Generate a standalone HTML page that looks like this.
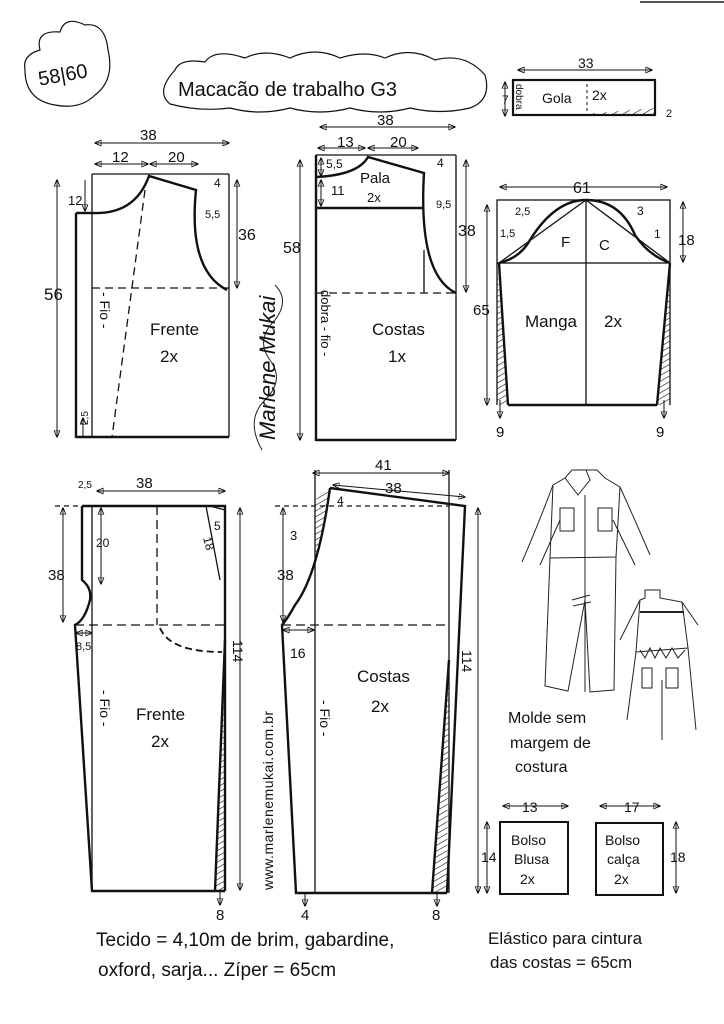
<!DOCTYPE html>
<html><head><meta charset="utf-8"><style>
html,body{margin:0;padding:0;background:#fff}
svg{display:block}
text{font-family:"Liberation Sans Narrow","Liberation Sans",sans-serif;fill:#111}
</style></head><body>
<svg width="724" height="1024" viewBox="0 0 724 1024" xmlns="http://www.w3.org/2000/svg">
<defs>
<marker id="a" viewBox="0 0 10 10" refX="9" refY="5" markerWidth="7" markerHeight="7" orient="auto-start-reverse"><path d="M0,1 L10,5 L0,9 Z" fill="none" stroke="#111" stroke-width="1.3"/></marker>
<pattern id="h" width="5" height="5" patternUnits="userSpaceOnUse" patternTransform="rotate(60)"><line x1="0" y1="0" x2="0" y2="5" stroke="#111" stroke-width="1.2"/></pattern>
</defs>
<rect width="724" height="1024" fill="#fff"/>
<line x1="640" y1="2" x2="724" y2="2" stroke="#555" stroke-width="2"/>
<g fill="none" stroke="#111" stroke-width="1.2">
<!-- size cloud -->
<path d="M40,50 Q35,30 60,32 Q65,15 85,25 Q105,22 108,50 Q115,80 95,95 Q80,110 55,105 Q25,100 25,70 Q22,55 40,50 Z"/>
<!-- title cloud -->
<path d="M175,70 Q180,58 205,62 Q215,48 245,58 Q265,48 290,58 Q315,46 340,58 Q365,50 385,58 Q410,46 435,60 Q465,52 485,75 Q492,100 470,108 Q440,115 410,108 Q380,116 350,108 Q320,116 290,108 Q260,116 230,108 Q200,112 170,104 Q155,92 175,70 Z"/>
</g>
<text x="38" y="82" font-size="20" transform="rotate(-10 60 75)">58|60</text>
<text x="178" y="96" font-size="20">Macacão de trabalho G3</text>

<g fill="none" stroke="#111" stroke-width="1">
<!-- dims -->
<line x1="95" y1="143" x2="229" y2="143" marker-start="url(#a)" marker-end="url(#a)"/>
<line x1="95" y1="164" x2="148" y2="164" marker-start="url(#a)" marker-end="url(#a)"/>
<line x1="150" y1="164" x2="198" y2="164" marker-start="url(#a)" marker-end="url(#a)"/>
<line x1="57" y1="180" x2="57" y2="437" marker-start="url(#a)" marker-end="url(#a)"/>
<line x1="85" y1="180" x2="85" y2="211" marker-end="url(#a)"/>
<line x1="237" y1="180" x2="237" y2="288" marker-start="url(#a)" marker-end="url(#a)"/>
<line x1="83" y1="436" x2="83" y2="418" marker-end="url(#a)"/>
<line x1="320" y1="127" x2="455" y2="127" marker-start="url(#a)" marker-end="url(#a)"/>
<line x1="318" y1="148" x2="365" y2="148" marker-start="url(#a)" marker-end="url(#a)"/>
<line x1="368" y1="148" x2="418" y2="148" marker-start="url(#a)" marker-end="url(#a)"/>
<line x1="321" y1="158" x2="321" y2="176" marker-start="url(#a)" marker-end="url(#a)"/>
<line x1="321" y1="180" x2="321" y2="206" marker-start="url(#a)" marker-end="url(#a)"/>
<line x1="300" y1="160" x2="300" y2="440" marker-start="url(#a)" marker-end="url(#a)"/>
<line x1="466" y1="160" x2="466" y2="292" marker-start="url(#a)" marker-end="url(#a)"/>
<line x1="500" y1="187" x2="667" y2="187" marker-start="url(#a)" marker-end="url(#a)"/>
<line x1="683" y1="202" x2="683" y2="262" marker-start="url(#a)" marker-end="url(#a)"/>
<line x1="487" y1="205" x2="487" y2="405" marker-start="url(#a)" marker-end="url(#a)"/>
<line x1="500" y1="400" x2="500" y2="418" marker-end="url(#a)"/>
<line x1="664" y1="400" x2="664" y2="418" marker-end="url(#a)"/>
<line x1="518" y1="70" x2="652" y2="70" marker-start="url(#a)" marker-end="url(#a)"/>
<line x1="505" y1="82" x2="505" y2="116" marker-start="url(#a)" marker-end="url(#a)"/>
<!-- pants dims -->
<line x1="97" y1="491" x2="225" y2="491" marker-start="url(#a)" marker-end="url(#a)"/>
<line x1="63" y1="508" x2="63" y2="622" marker-start="url(#a)" marker-end="url(#a)"/>
<line x1="101" y1="508" x2="101" y2="584" marker-start="url(#a)" marker-end="url(#a)"/>
<line x1="240" y1="508" x2="240" y2="890" marker-start="url(#a)" marker-end="url(#a)"/>
<line x1="76" y1="633" x2="92" y2="633" marker-start="url(#a)" marker-end="url(#a)"/>
<line x1="220" y1="891" x2="220" y2="905" marker-end="url(#a)"/>
<line x1="313" y1="473" x2="449" y2="473" marker-start="url(#a)" marker-end="url(#a)"/>
<line x1="333" y1="485" x2="465" y2="497" marker-start="url(#a)" marker-end="url(#a)"/>
<line x1="283" y1="508" x2="283" y2="622" marker-start="url(#a)" marker-end="url(#a)"/>
<line x1="283" y1="630" x2="314" y2="630" marker-start="url(#a)" marker-end="url(#a)"/>
<line x1="478" y1="508" x2="478" y2="893" marker-start="url(#a)" marker-end="url(#a)"/>
<line x1="305" y1="893" x2="305" y2="906" marker-end="url(#a)"/>
<line x1="437" y1="893" x2="437" y2="906" marker-end="url(#a)"/>
<line x1="503" y1="806" x2="568" y2="806" marker-start="url(#a)" marker-end="url(#a)"/>
<line x1="600" y1="806" x2="660" y2="806" marker-start="url(#a)" marker-end="url(#a)"/>
<line x1="487" y1="822" x2="487" y2="893" marker-start="url(#a)" marker-end="url(#a)"/>
<line x1="676" y1="822" x2="676" y2="893" marker-start="url(#a)" marker-end="url(#a)"/>
</g>

<!-- Front bodice -->
<g fill="none" stroke="#111" stroke-width="1.3">
<line x1="92" y1="174" x2="229" y2="174"/>
<line x1="92" y1="174" x2="92" y2="437"/>
<line x1="229" y1="174" x2="229" y2="437"/>
<line x1="145" y1="190" x2="112" y2="437" stroke-dasharray="8 5"/>
<line x1="92" y1="288" x2="229" y2="288" stroke-dasharray="8 5"/>
</g>
<g fill="none" stroke="#111" stroke-width="2.4">
<path d="M92,213 Q135,215 149,176 L196,190 Q188,270 227,290"/>
<line x1="76" y1="213" x2="76" y2="438"/>
<line x1="76" y1="213" x2="92" y2="213"/>
<line x1="76" y1="437" x2="229" y2="437"/>
</g>
<!-- Back bodice -->
<g fill="none" stroke="#111" stroke-width="1.3">
<line x1="316" y1="155" x2="456" y2="155"/>
<line x1="456" y1="155" x2="456" y2="440"/>
<line x1="316" y1="293" x2="456" y2="293" stroke-dasharray="8 5"/>
<line x1="424" y1="250" x2="424" y2="293"/>
</g>
<g fill="none" stroke="#111" stroke-width="2.4">
<path d="M316,177 Q358,175 368,157 L424,173 Q418,275 456,293"/>
<line x1="316" y1="155" x2="316" y2="441"/>
<line x1="316" y1="208" x2="424" y2="208"/>
<line x1="316" y1="440" x2="456" y2="440"/>
</g>
<!-- Sleeve -->
<path d="M497,263 L508,405 L497,405 Z M670,263 L670,405 L657,405 Z" fill="url(#h)" stroke="none"/>
<g fill="none" stroke="#111" stroke-width="1.3">
<rect x="497" y="200" width="173" height="63"/>
<line x1="497" y1="263" x2="497" y2="405"/>
<line x1="670" y1="263" x2="670" y2="405"/>
<line x1="586" y1="200" x2="586" y2="405"/>
<line x1="499" y1="263" x2="586" y2="200"/>
<line x1="586" y1="200" x2="670" y2="263"/>
</g>
<g fill="none" stroke="#111" stroke-width="2.4">
<path d="M499,263 Q520,258 530,240 Q555,200 586,200 Q620,200 635,235 Q648,255 670,263"/>
<line x1="499" y1="263" x2="508" y2="405"/>
<line x1="670" y1="263" x2="657" y2="405"/>
<line x1="508" y1="405" x2="657" y2="405"/>
</g>
<!-- Gola -->
<path d="M585,114 L655,108 L655,115 Z" fill="url(#h)"/>
<g fill="none" stroke="#111" stroke-width="2.2">
<rect x="513" y="80" width="142" height="35"/>
</g>
<line x1="587" y1="84" x2="587" y2="112" stroke="#111" stroke-dasharray="3 3"/>

<!-- Front pants -->
<path d="M225,640 L225,891 L215,891 Z" fill="url(#h)"/>
<g fill="none" stroke="#111" stroke-width="1.3">
<line x1="92" y1="506" x2="92" y2="891"/>
<line x1="75" y1="625" x2="225" y2="625" stroke-dasharray="9 5"/>
<line x1="157" y1="506" x2="157" y2="625" stroke-dasharray="9 5"/>
<path d="M160,628 Q170,652 222,652" stroke-dasharray="7 4" stroke-width="1.8"/>
<line x1="206" y1="506" x2="220" y2="580"/>
<line x1="210" y1="506" x2="225" y2="510"/>
<line x1="55" y1="506" x2="82" y2="506" stroke-dasharray="5 4"/>
</g>
<g fill="none" stroke="#111" stroke-width="2.4">
<path d="M82,506 L225,506 L225,891"/>
<path d="M82,506 L82,580 Q92,588 90,600 Q85,620 75,625 L92,891 L225,891"/>
<line x1="225" y1="640" x2="215" y2="891"/>
</g>
<!-- Back pants -->
<path d="M330,488 L315,500 L315,560 Q322,530 330,488 Z" fill="url(#h)"/>
<path d="M449,660 L447,893 L432,893 Z" fill="url(#h)"/>
<g fill="none" stroke="#111" stroke-width="1.3">
<line x1="315" y1="470" x2="315" y2="893" stroke-dasharray="40 0"/>
<line x1="449" y1="470" x2="449" y2="893"/>
<line x1="282" y1="625" x2="449" y2="625" stroke-dasharray="9 5"/>
<line x1="275" y1="506" x2="449" y2="506" stroke-dasharray="5 4"/>
</g>
<g fill="none" stroke="#111" stroke-width="2.4">
<path d="M330,488 L465,506 L447,893"/>
<path d="M330,488 Q318,575 295,605 Q288,618 282,625 L296,893 L447,893"/>
<line x1="449" y1="660" x2="432" y2="893"/>
</g>
<!-- pockets -->
<g fill="none" stroke="#111" stroke-width="2">
<rect x="500" y="822" width="68" height="72"/>
<rect x="596" y="823" width="67" height="72"/>
</g>
<!-- illustrations -->
<g fill="none" stroke="#222" stroke-width="1">
<path d="M572,470 L565,478 L553,485 L550,558 L616,557 L620,487 L605,478 L597,470 Z"/>
<path d="M565,478 L578,495 L590,480 L586,470"/>
<line x1="585" y1="495" x2="585" y2="692"/>
<path d="M553,485 Q540,520 522,562 M560,520 L540,565 M620,487 Q635,520 650,555 M613,520 L635,565"/>
<rect x="560" y="508" width="14" height="23"/><rect x="598" y="508" width="14" height="23"/>
<path d="M550,558 L545,686 L568,691 L585,600 M616,557 L614,690 L590,692 L585,600"/>
<path d="M572,600 L590,595 M573,606 L591,602"/>
<path d="M645,590 L660,590 L660,598 L682,602 L688,648 L636,652 L640,600 L645,598 Z"/>
<line x1="640" y1="612" x2="684" y2="612" stroke-width="2"/>
<path d="M640,600 L620,640 M682,602 L698,625 M636,652 L627,720 M688,648 L696,730 M662,680 L662,740"/>
<rect x="642" y="668" width="10" height="20"/><rect x="666" y="668" width="12" height="20"/>
<path d="M640,650 L645,658 L650,648 L655,658 L660,648 L666,658 L672,648 L678,658 L685,650"/>
</g>
<!-- signature -->
<path d="M262,450 Q245,420 265,400 Q285,380 270,360 Q255,340 275,320 Q290,300 275,285" fill="none" stroke="#222" stroke-width="1"/>
<text transform="translate(275,440) rotate(-90)" font-size="22" font-style="italic" fill="#222">Marlene Mukai</text>

<g font-size="15">
<text x="140" y="140">38</text><text x="112" y="162">12</text><text x="168" y="162">20</text>
<text x="68" y="205" font-size="13">12</text><text x="44" y="300" font-size="17">56</text>
<text x="214" y="187" font-size="12">4</text><text x="205" y="218" font-size="11">5,5</text>
<text x="238" y="240" font-size="16">36</text>
<text x="150" y="335" font-size="17">Frente</text><text x="160" y="362" font-size="17">2x</text>
<text transform="translate(100,292) rotate(90)" font-size="14">- Fio -</text>
<text transform="translate(88,425) rotate(-90)" font-size="10">2,5</text>
<text x="377" y="125">38</text><text x="337" y="147">13</text><text x="390" y="147">20</text>
<text x="326" y="168" font-size="12">5,5</text><text x="331" y="195" font-size="13">11</text>
<text x="360" y="183">Pala</text><text x="367" y="202" font-size="13">2x</text>
<text x="437" y="167" font-size="12">4</text><text x="436" y="208" font-size="11">9,5</text>
<text x="283" y="253" font-size="16">58</text><text x="458" y="236" font-size="16">38</text>
<text x="372" y="335" font-size="17">Costas</text><text x="388" y="362" font-size="17">1x</text>
<text transform="translate(321,290) rotate(90)" font-size="13">dobra - fio -</text>
<text x="573" y="193" font-size="16">61</text><text x="525" y="327" font-size="17">Manga</text><text x="604" y="327" font-size="17">2x</text>
<text x="561" y="247" font-size="15">F</text><text x="599" y="250" font-size="15">C</text>
<text x="515" y="215" font-size="11">2,5</text><text x="500" y="237" font-size="11">1,5</text>
<text x="637" y="215" font-size="12">3</text><text x="654" y="238" font-size="12">1</text>
<text x="678" y="245" font-size="15">18</text><text x="473" y="315" font-size="15">65</text>
<text x="496" y="437" font-size="15">9</text><text x="656" y="437" font-size="15">9</text>
<text x="578" y="68" font-size="14">33</text><text x="542" y="103" font-size="14">Gola</text><text x="592" y="100" font-size="14">2x</text>
<text transform="translate(516,84) rotate(90)" font-size="10">dobra</text>
<text x="502" y="104" font-size="12">7</text><text x="666" y="117" font-size="11">2</text>
<text x="136" y="488">38</text><text x="78" y="488" font-size="10">2,5</text>
<text x="96" y="547" font-size="12">20</text><text x="48" y="580" font-size="15">38</text>
<text x="214" y="530" font-size="12">5</text><text transform="translate(203,538) rotate(75)" font-size="12">18</text>
<text x="76" y="650" font-size="11">8,5</text>
<text transform="translate(233,640) rotate(90)" font-size="14">114</text>
<text x="136" y="720" font-size="17">Frente</text><text x="151" y="747" font-size="17">2x</text>
<text transform="translate(100,690) rotate(90)" font-size="14">- Fio -</text>
<text x="216" y="920">8</text>
<text x="375" y="470">41</text><text x="385" y="493">38</text>
<text x="337" y="505" font-size="12">4</text><text x="290" y="540" font-size="13">3</text>
<text x="277" y="580" font-size="15">38</text><text x="290" y="658" font-size="14">16</text>
<text x="357" y="682" font-size="17">Costas</text><text x="371" y="712" font-size="17">2x</text>
<text transform="translate(462,650) rotate(90)" font-size="14">114</text>
<text transform="translate(320,700) rotate(90)" font-size="14">- Fio -</text>
<text x="301" y="920">4</text><text x="432" y="920">8</text>
<text transform="translate(273,890) rotate(-90)" font-size="14" letter-spacing="0.5">www.marlenemukai.com.br</text>
<text x="508" y="723" font-size="16">Molde sem</text><text x="510" y="748" font-size="16">margem de</text><text x="515" y="772" font-size="16">costura</text>
<text x="522" y="812" font-size="14">13</text><text x="624" y="812" font-size="14">17</text>
<text x="511" y="845" font-size="14">Bolso</text><text x="514" y="864" font-size="14">Blusa</text><text x="520" y="884" font-size="14">2x</text>
<text x="605" y="845" font-size="14">Bolso</text><text x="607" y="864" font-size="14">calça</text><text x="614" y="884" font-size="14">2x</text>
<text x="481" y="862" font-size="14">14</text><text x="670" y="862" font-size="14">18</text>
<text x="96" y="946" font-size="19">Tecido = 4,10m de brim, gabardine,</text>
<text x="98" y="976" font-size="19">oxford, sarja...  Zíper = 65cm</text>
<text x="488" y="944" font-size="17">Elástico para cintura</text>
<text x="490" y="968" font-size="17">das costas = 65cm</text>
</g>
</svg>
</body></html>
